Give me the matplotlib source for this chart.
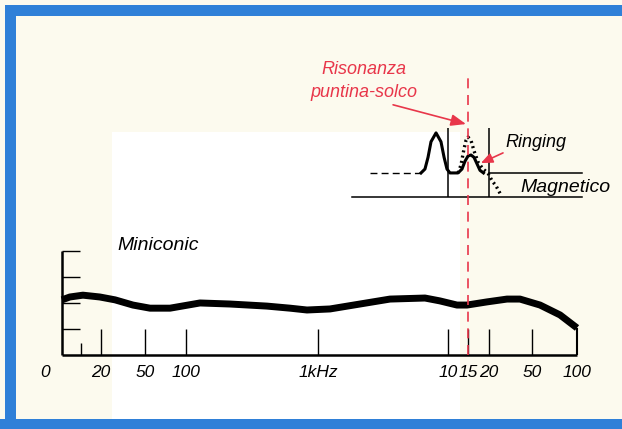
import numpy as np
import matplotlib.pyplot as plt
from matplotlib.patches import Rectangle

# Miniconic response (frequency in Hz, relative level)
freq_hz = [10, 11.5, 14.5, 19.6, 26.8, 38.9, 54.4, 76.4, 127.6, 215, 410, 614, 825, 1237,
           2104, 3580, 6650, 8660, 12000, 14700, 19400, 29360, 38700, 56600, 77000, 100000]
level = [2.12, 2.23, 2.30, 2.23, 2.12, 1.92, 1.80, 1.80, 2.00, 1.96, 1.88, 1.80, 1.73, 1.77,
         1.96, 2.15, 2.19, 2.08, 1.92, 1.92, 2.04, 2.15, 2.15, 1.92, 1.54, 1.04]

# small sketch: magnetic cartridge resonance
mag_f = [6200, 6650, 7020, 7400, 8090, 8830, 9330, 9820, 10410, 12250, 13280, 14110,
         15000, 15630, 16290, 16970, 17680, 18540]
mag_lvl = [7.0, 7.15, 7.6, 8.2, 8.54, 8.2, 7.6, 7.15, 7.0, 7.0, 7.15, 7.45,
           7.65, 7.69, 7.6, 7.35, 7.1, 7.0]
ring_f = [12250, 13000, 13800, 14400, 15000, 15630, 16290, 17200, 18420, 19710, 21330, 23240, 25800]
ring_lvl = [7.0, 7.3, 7.9, 8.25, 8.38, 8.25, 7.85, 7.42, 7.15, 7.0, 6.7, 6.5, 6.15]

tick_f = [10, 20, 50, 100, 1000, 10000, 15000, 20000, 50000, 100000]
tick_labels = ["0", "20", "50", "100", "1kHz", "10", "15", "20", "50", "100"]
level_ticks = [1, 2, 3, 4]

resonance_f = 15000

# the hand-drawn frequency axis is only roughly logarithmic:
# where each labelled frequency sits along the page width
axis_pos = [62, 101, 145, 186, 318, 448, 468, 489, 532, 577]
LOGF = np.log10(tick_f)
SLOPE = 130.0


def fwd(x):
    l = np.log10(np.maximum(np.asarray(x, dtype=float), 1e-9))
    mid = np.interp(l, LOGF, axis_pos)
    lo = axis_pos[0] + (l - LOGF[0]) * SLOPE
    hi = axis_pos[-1] + (l - LOGF[-1]) * SLOPE
    return np.where(l < LOGF[0], lo, np.where(l > LOGF[-1], hi, mid))


def inv(u):
    u = np.asarray(u, dtype=float)
    mid = np.interp(u, axis_pos, LOGF)
    lo = LOGF[0] + (u - axis_pos[0]) / SLOPE
    hi = LOGF[-1] + (u - axis_pos[-1]) / SLOPE
    return 10 ** np.where(u < axis_pos[0], lo, np.where(u > axis_pos[-1], hi, mid))


BLUE = "#2f80d8"
RED = "#e8364a"
CREAM = "#fcfaee"
fam = ["Liberation Sans", "DejaVu Sans"]

fig = plt.figure(figsize=(6.22, 4.29), dpi=100)
fig.patch.set_facecolor(CREAM)
ax = fig.add_axes([0, 0, 1, 1])
ax.set_facecolor(CREAM)
ax.set_xscale("function", functions=(fwd, inv))
ax.set_xlim(float(inv(0)), float(inv(622)))
ax.set_ylim(-2.846, 13.65)
ax.axis("off")

# scan artefacts: white patch and blue frame
ax.add_patch(Rectangle((0.180, 0.021), 0.56, 0.671, transform=ax.transAxes,
                       color="white", lw=0, zorder=0))
for r in [(0.008, 0, 0.018, 0.988), (0.008, 0.962, 0.992, 0.026), (0, 0, 1, 0.023)]:
    ax.add_patch(Rectangle(r[:2], r[2], r[3], transform=ax.transAxes,
                           color=BLUE, lw=0, zorder=5))

# main axes
ax.plot([10, 10], [0, 4], color="black", lw=1.8, solid_capstyle="butt")
ax.plot([10, 100000], [0, 0], color="black", lw=1.8, solid_capstyle="butt")
ax.hlines(level_ticks, 10, 13.7, color="black", lw=1.0)
ax.vlines(tick_f[1:-1], 0, 1, color="black", lw=1.0)
ax.vlines([14], 0, 0.46, color="black", lw=1.0)
ax.vlines([freq_hz[-1]], 0, level[-1], color="black", lw=1.5)
for f, lab in zip(tick_f, tick_labels):
    ax.annotate(lab, (f, -0.69), xytext=(-17 if lab == "0" else 0, 0),
                textcoords="offset pixels", ha="center", va="center",
                fontsize=12.5, style="italic", family=fam)

ax.plot(freq_hz, level, color="black", lw=5.0, solid_capstyle="butt",
        solid_joinstyle="round")
ax.text(0.188, 0.427, "Miniconic", transform=ax.transAxes, ha="left", va="center",
        fontsize=14, style="italic", family=fam)

# sketch in upper right
ax.plot([1826, 109000], [6.08, 6.08], color="black", lw=1.1)
ax.plot([2512, 6200], [7.0, 7.0], color="black", lw=1.0, ls=(0, (5, 3)))
ax.plot([20000, 109000], [7.0, 7.0], color="black", lw=1.1)
ax.vlines([10000, 20000], 6.08, 8.73, color="black", lw=1.1)
ax.plot(mag_f, mag_lvl, color="black", lw=2.2, solid_joinstyle="round")
ax.plot(ring_f, ring_lvl, color="black", lw=2.4, ls=(0, (0.6, 1.0)))

ax.plot([resonance_f, resonance_f], [0, 10.65], color=RED, lw=1.2, ls=(0, (6, 4)))
ax.text(0.585, 0.811, "Risonanza\npuntina-solco", transform=ax.transAxes,
        ha="center", va="center", fontsize=13, style="italic", family=fam,
        color=RED, linespacing=1.4)
ax.annotate("", xy=(14400, 8.88), xytext=(3780, 9.62),
            arrowprops=dict(arrowstyle="-|>,head_length=0.9,head_width=0.35",
                            color=RED, lw=1.2, shrinkA=0, shrinkB=0))
ax.text(0.812, 0.667, "Ringing", transform=ax.transAxes, ha="left", va="center",
        fontsize=13, style="italic", family=fam)
ax.annotate("", xy=(17900, 7.38), xytext=(26950, 7.77),
            arrowprops=dict(arrowstyle="-|>,head_length=0.7,head_width=0.3",
                            color=RED, lw=1.2, shrinkA=0, shrinkB=0))
ax.text(0.836, 0.564, "Magnetico", transform=ax.transAxes, ha="left", va="center",
        fontsize=14, style="italic", family=fam)

fig.savefig("out.png", dpi=100, facecolor=CREAM)
